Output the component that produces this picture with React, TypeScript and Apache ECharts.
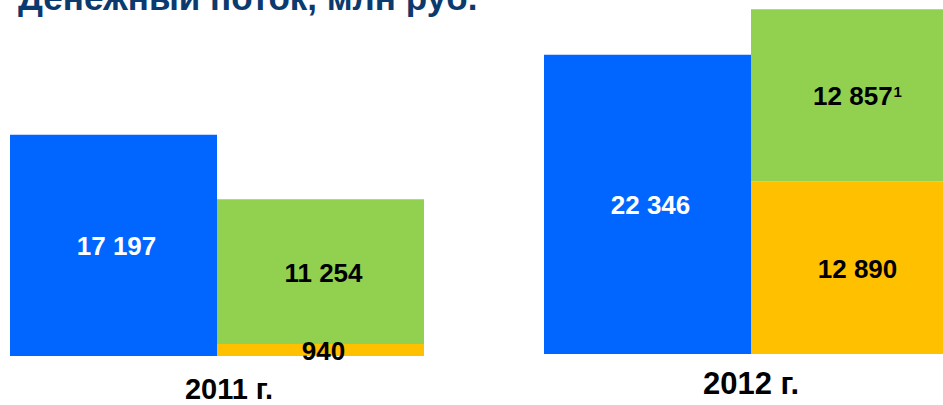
import React, { useEffect, useRef } from "react";
import * as echarts from "echarts";

const years = ["2011 г.", "2012 г."];
const blueValues = [17197, 22346];
const greenValues = [11254, 12857];
const yellowValues = [940, 12890];
const greenFootnotes = ["", "1"];
const titleText = "Денежный поток, млн руб.";

const BLUE = "#0066FF";
const GREEN = "#92D050";
const YELLOW = "#FFC000";
const NAVY = "#0B3A6E";
const FONT = '"Liberation Sans", Arial, sans-serif';

const fmt = (v: number) => String(v).replace(/\B(?=(\d{3})+(?!\d))/g, " ");

export default function App() {
  const ref = useRef<HTMLDivElement>(null);
  useEffect(() => {
    if (!ref.current) return;
    const chart = echarts.init(ref.current, undefined, { renderer: "svg" });
    const grids = [
      { left: 10, width: 414, top: 0, bottom: 49 },
      { left: 544, width: 414, top: 0, bottom: 51 },
    ];
    const yMax = [27680, 26440];
    const labelFont = [29, 31];
    const labelMargin = [18, 14];
    const labelPad = [[0, 0, 0, 24], [0, 0, 0, 0]];
    const baseLabel = {
      show: true,
      position: "inside" as const,
      fontFamily: FONT,
      fontWeight: "bold" as const,
      fontSize: 26,
      offset: [3, 1],
    };
    const series: any[] = [];
    years.forEach((y, i) => {
      series.push({
        type: "bar",
        xAxisIndex: i,
        yAxisIndex: i,
        data: [blueValues[i]],
        barWidth: 207,
        barGap: "0%",
        barCategoryGap: "0%",
        itemStyle: { color: BLUE },
        label: { ...baseLabel, color: "#ffffff", formatter: (p: any) => fmt(p.value) },
      });
      series.push({
        type: "bar",
        xAxisIndex: i,
        yAxisIndex: i,
        stack: "s" + i,
        data: [yellowValues[i]],
        barWidth: 207,
        barGap: "0%",
        itemStyle: { color: YELLOW },
        label: { ...baseLabel, color: "#000000", formatter: (p: any) => fmt(p.value) },
      });
      series.push({
        type: "bar",
        xAxisIndex: i,
        yAxisIndex: i,
        stack: "s" + i,
        data: [greenValues[i]],
        barWidth: 207,
        barGap: "0%",
        itemStyle: { color: GREEN },
        label: {
          ...baseLabel,
          color: "#000000",
          formatter: (p: any) =>
            greenFootnotes[i] ? `{v|${fmt(p.value)}}{s|${greenFootnotes[i]}}` : `{v|${fmt(p.value)}}`,
          rich: {
            v: { fontFamily: FONT, fontWeight: "bold", fontSize: 26, color: "#000", lineHeight: 30 },
            s: { fontFamily: FONT, fontWeight: "bold", fontSize: 15, color: "#000", verticalAlign: "top", lineHeight: 30, padding: [3, 0, 0, 1] },
          },
        },
      });
    });
    chart.setOption({
      animation: false,
      title: {
        text: titleText,
        left: 13,
        top: -25,
        textStyle: { color: NAVY, fontFamily: FONT, fontWeight: "bold", fontSize: 35 },
      },
      grid: grids,
      xAxis: years.map((y, i) => ({
        type: "category",
        gridIndex: i,
        data: [y],
        axisLine: { show: false },
        axisTick: { show: false },
        axisLabel: {
          color: "#000",
          fontFamily: FONT,
          fontWeight: "bold",
          fontSize: labelFont[i],
          margin: labelMargin[i],
          padding: labelPad[i],
        },
      })),
      yAxis: years.map((y, i) => ({
        type: "value",
        gridIndex: i,
        min: 0,
        max: yMax[i],
        show: false,
        splitLine: { show: false },
      })),
      series,
    });
    return () => chart.dispose();
  }, []);
  return (
    <div style={{ position: "absolute", left: 0, top: 0, width: 943, height: 405, overflow: "hidden" }}>
      <div ref={ref} style={{ width: 958, height: 405 }} />
    </div>
  );
}
